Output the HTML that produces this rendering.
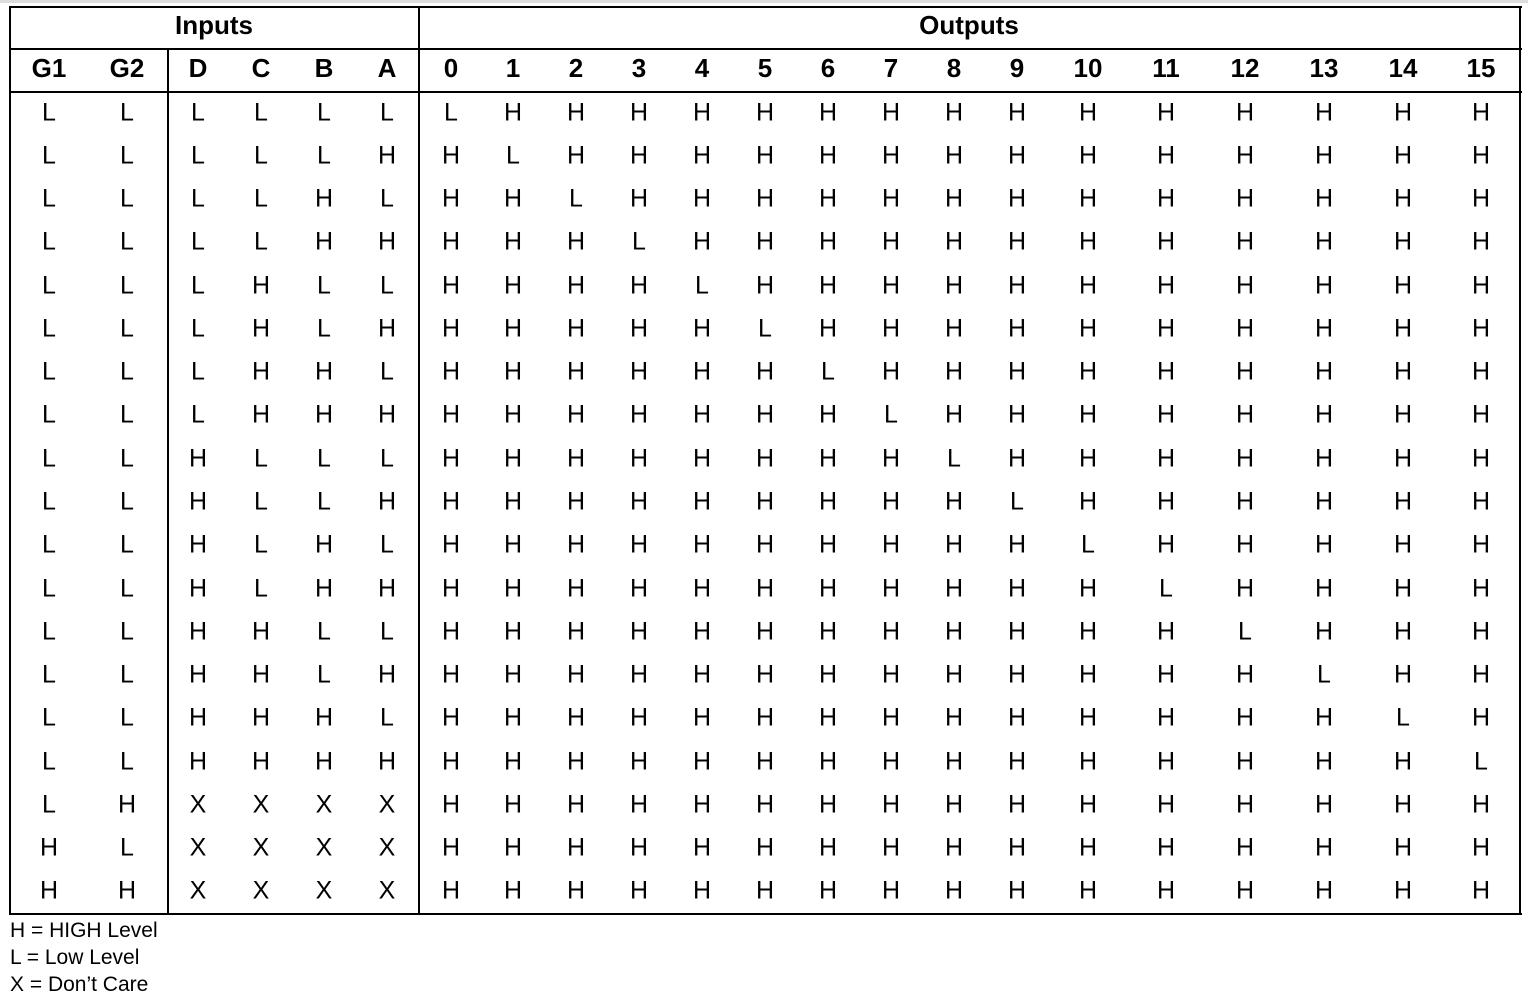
<!DOCTYPE html>
<html><head><meta charset="utf-8">
<style>
body{margin:0;width:1528px;height:1000px;background:#fff;position:relative;overflow:hidden;font-family:"Liberation Sans",sans-serif;color:#000}
.l{position:absolute;background:#000}
.t{position:absolute;transform:translate(-50%,-50%);font-size:25px;line-height:1;white-space:nowrap}
.h{font-weight:bold;font-size:26px}
.lg{position:absolute;left:10px;font-size:21px;line-height:1}
</style></head>
<body>
<div class="l" style="left:0;top:0;width:1528px;height:3px;background:#ddd"></div>
<div id="tbl"></div>
<div class="lg" style="top:920px">H = HIGH Level</div>
<div class="lg" style="top:947px">L = Low Level</div>
<div class="lg" style="top:974px">X = Don’t Care</div>
<script>
const headers=["G1","G2","D","C","B","A","0","1","2","3","4","5","6","7","8","9","10","11","12","13","14","15"];
const colX=[49,127,198,261,324,387,451,513,576,639,702,765,828,891,954,1017,1088,1166,1245,1324,1403,1481];
const inputs=[];
for(let i=0;i<16;i++){const b=[8,4,2,1].map(m=>(i&m)?"H":"L");inputs.push(["L","L"].concat(b));}
inputs.push(["L","H","X","X","X","X"]);
inputs.push(["H","L","X","X","X","X"]);
inputs.push(["H","H","X","X","X","X"]);
const T=document.getElementById('tbl');
function line(x,y,w,h,n){const d=document.createElement('div');d.className='l';


d.style.cssText=`left:${x}px;top:${y}px;width:${w}px;height:${h}px`;T.appendChild(d);}
function txt(x,y,s,cls,n){const d=document.createElement('div');d.className='t '+cls;d.textContent=s;


d.style.left=x+'px';d.style.top=y+'px';T.appendChild(d);}
const top0=7,r1=49,r2=92,bot=914,rowH=(bot-r2)/19;
line(9,top0-1,1513,2,'border-top');
line(9,r1-1,1513,2,'header-divider');
line(9,r2-1,1513,2,'header-bottom');
line(9,bot-1,1513,2,'border-bottom');
line(9,top0-1,2,bot-top0+1,'border-left');
line(1519,top0-1,2,bot-top0+1,'border-right');
line(418,top0-1,2,bot-top0+1,'inputs-outputs-divider');
line(167,r1-1,2,bot-r1+1,'enable-divider');
txt(214,25,"Inputs","h","inputs-header");
txt(969,25,"Outputs","h","outputs-header");
headers.forEach((h,i)=>txt(colX[i],68,h,"h","col-header-"+h.toLowerCase()));
inputs.forEach((row,r)=>{
  const y=r2+rowH*(r+0.5)-1;
  const outs=[];for(let k=0;k<16;k++)outs.push(r<16&&k===r?"L":"H");
  row.concat(outs).forEach((v,c)=>txt(colX[c],y,v,"","cell-r"+r+"-"+headers[c].toLowerCase()));
});
</script>
</body></html>
